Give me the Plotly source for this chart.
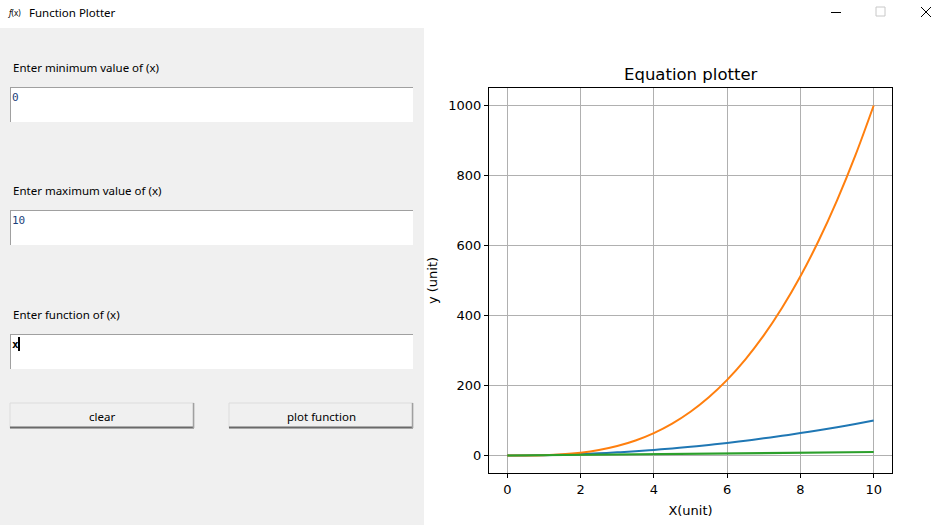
import plotly.graph_objects as go

# values (x from 0 to 10)
x_vals = [0, 0.5, 1, 1.5, 2, 2.5, 3, 3.5, 4, 4.5, 5, 5.5, 6, 6.5, 7, 7.5, 8, 8.5, 9, 9.5, 10]
y_square = [0, 0.25, 1, 2.25, 4, 6.25, 9, 12.25, 16, 20.25, 25, 30.25, 36, 42.25, 49, 56.25,
            64, 72.25, 81, 90.25, 100]
y_cube = [0, 0.125, 1, 3.375, 8, 15.625, 27, 42.875, 64, 91.125, 125, 166.375, 216, 274.625,
          343, 421.875, 512, 614.125, 729, 857.375, 1000]
y_linear = [0, 0.5, 1, 1.5, 2, 2.5, 3, 3.5, 4, 4.5, 5, 5.5, 6, 6.5, 7, 7.5, 8, 8.5, 9, 9.5, 10]
x_ticks = [0, 2, 4, 6, 8, 10]
y_ticks = [0, 200, 400, 600, 800, 1000]

W, H = 943, 525


def px(x):
    return x / W


def py(y):
    return 1 - y / H


fig = go.Figure()
fig.add_trace(go.Scatter(x=x_vals, y=y_square, mode="lines", line=dict(color="#1f77b4", width=2, shape="spline")))
fig.add_trace(go.Scatter(x=x_vals, y=y_cube, mode="lines", line=dict(color="#ff7f0e", width=2, shape="spline")))
fig.add_trace(go.Scatter(x=x_vals, y=y_linear, mode="lines", line=dict(color="#2ca02c", width=2.2)))

shapes = []
annos = []

# left gray panel
shapes.append(dict(type="rect", xref="paper", yref="paper", x0=px(0), x1=px(424), y0=py(525), y1=py(28),
                   fillcolor="#f0f0f0", line=dict(width=0), layer="below"))

ui_font = "Noto Sans, DejaVu Sans, sans-serif"


def label(x, y, text, size=11.5, color="#000000", anchor="left", family=ui_font):
    # annotations carry ~2px of padding, pull left-anchored text back
    if anchor == "left":
        x -= 2
    annos.append(dict(xref="paper", yref="paper", x=px(x), y=py(y), text=text, showarrow=False,
                      xanchor=anchor, yanchor="middle", font=dict(family=family, size=size, color=color)))


def entry(top, text, color):
    shapes.append(dict(type="rect", xref="paper", yref="paper", x0=px(10), x1=px(413), y0=py(top + 35),
                       y1=py(top), fillcolor="#ffffff", line=dict(width=0)))
    shapes.append(dict(type="line", xref="paper", yref="paper", x0=px(10), x1=px(413), y0=py(top + 0.5),
                       y1=py(top + 0.5), line=dict(color="#a0a0a0", width=1)))
    shapes.append(dict(type="line", xref="paper", yref="paper", x0=px(10.5), x1=px(10.5), y0=py(top),
                       y1=py(top + 35), line=dict(color="#a0a0a0", width=1)))
    label(12, top + 10, text, size=11, color=color, family="DejaVu Sans Mono, monospace")


def button(x0, x1, text):
    shapes.append(dict(type="rect", xref="paper", yref="paper", x0=px(x0), x1=px(x1), y0=py(428),
                       y1=py(403), fillcolor="#f0f0f0", line=dict(color="#dcdcdc", width=1)))
    shapes.append(dict(type="line", xref="paper", yref="paper", x0=px(x0), x1=px(x1), y0=py(427.5),
                       y1=py(427.5), line=dict(color="#696969", width=2)))
    shapes.append(dict(type="line", xref="paper", yref="paper", x0=px(x1 - 0.5), x1=px(x1 - 0.5), y0=py(403),
                       y1=py(428), line=dict(color="#a0a0a0", width=1.5)))
    label((x0 + x1) / 2, 416, text, size=11.5, anchor="center")


label(13, 67, "Enter minimum value of (x)")
entry(87, "0", "#1c3f7a")
label(13, 190, "Enter maximum value of (x)")
entry(210, "10", "#1c3f7a")
label(13, 314, "Enter function of (x)")
entry(334, "<b>x</b>", "#000000")
shapes.append(dict(type="line", xref="paper", yref="paper", x0=px(19), x1=px(19), y0=py(337), y1=py(351),
                   line=dict(color="#000000", width=2)))
button(10, 194, "clear")
button(229, 413, "plot function")

# title bar
label(8, 12, "<i>f</i>(x)", size=8)
label(29, 12, "Function Plotter", size=11.5)
shapes.append(dict(type="line", xref="paper", yref="paper", x0=px(831), x1=px(841), y0=py(12.5), y1=py(12.5),
                   line=dict(color="#000000", width=1)))
shapes.append(dict(type="rect", xref="paper", yref="paper", x0=px(876), x1=px(885), y0=py(16), y1=py(7),
                   line=dict(color="#c8c8c8", width=1)))
shapes.append(dict(type="line", xref="paper", yref="paper", x0=px(921), x1=px(931), y0=py(7), y1=py(17),
                   line=dict(color="#000000", width=1)))
shapes.append(dict(type="line", xref="paper", yref="paper", x0=px(921), x1=px(931), y0=py(17), y1=py(7),
                   line=dict(color="#000000", width=1)))

# plot title
label(690.5, 74, "Equation plotter", size=16.5, anchor="center", family="DejaVu Sans, sans-serif")

axis_font = dict(family="DejaVu Sans, sans-serif", size=13, color="#000000")
fig.update_layout(
    width=W, height=H, autosize=False,
    margin=dict(l=0, r=0, t=0, b=0),
    paper_bgcolor="#ffffff", plot_bgcolor="#ffffff",
    showlegend=False,
    shapes=shapes, annotations=annos,
    font=axis_font,
    xaxis=dict(domain=[px(489), px(892)], range=[-0.5, 10.5], tickvals=x_ticks,
               showgrid=True, gridcolor="#b0b0b0", gridwidth=1, zeroline=False,
               showline=True, linecolor="#000000", linewidth=1, mirror=True,
               ticks="outside", ticklen=4, tickcolor="#000000", tickfont=axis_font,
               title=dict(text="X(unit)", font=axis_font, standoff=10)),
    yaxis=dict(domain=[py(473), py(88)], range=[-50, 1050], tickvals=y_ticks,
               showgrid=True, gridcolor="#b0b0b0", gridwidth=1, zeroline=False,
               showline=True, linecolor="#000000", linewidth=1, mirror=True,
               ticks="outside", ticklen=4, tickcolor="#000000", tickfont=axis_font,
               title=dict(text="y (unit)", font=axis_font, standoff=7)),
)

fig.write_html("out.html", config=dict(displayModeBar=False),
               post_script="document.body.style.margin='0';document.body.style.overflow='hidden';")
